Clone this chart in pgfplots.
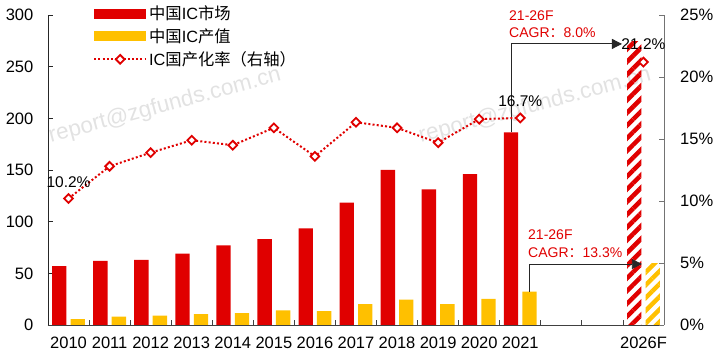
\documentclass[border=0pt]{standalone}
\usepackage{pgfplots}
\pgfplotsset{compat=1.18}
\usepackage{fontspec}
\setmainfont{Liberation Sans}
\newfontfamily\cjk{Noto Sans CJK SC}
\usetikzlibrary{patterns.meta,arrows.meta}
\definecolor{cred}{HTML}{E00000}
\definecolor{cyel}{HTML}{FFC000}
\definecolor{wm}{HTML}{E2E2E2}
\newcommand{\fs}{\fontsize{15.5}{18}\selectfont}
\newcommand{\fst}{\fontsize{16.5}{19}\selectfont}
\newcommand{\fsl}{\fontsize{16.3}{19}\selectfont}
\newcommand{\fsr}{\fontsize{14}{16}\selectfont}

\tikzset{
  rateline/.style={cred, dash pattern=on 2pt off 2.2pt, line width=2pt},
  ratemark/.style={mark=square*, mark size=3.1pt, mark options={solid, rotate=45, fill=white, draw=cred, line width=1.8pt}},
}

\pgfplotsset{
  common/.style={
    scale only axis, width=616pt, height=310pt,
    xmin=-0.5, xmax=14.5,
    tick align=inside,
    major tick length=5pt, minor tick length=5pt,
    /pgf/number format/assume math mode=true,
    tick label style={font=\fst},
    clip=false,
  },
}

\begin{document}
\begin{tikzpicture}
\useasboundingbox (-48pt,-33pt) rectangle (670pt,325pt);

% watermarks
\node[text=wm, rotate=15, font=\fontsize{22.5}{24}\selectfont] at (117pt,219pt) {report@zgfunds.com.cn};
\node[text=wm, rotate=15, font=\fontsize{22.5}{24}\selectfont] at (487pt,219pt) {report@zgfunds.com.cn};

\begin{axis}[
  common,
  ymin=0, ymax=300, ytick={0,50,...,300},
  axis x line*=bottom, axis y line*=left,
  x axis line style={black!75, line width=0.8pt},
  y axis line style={black!85, line width=0.8pt},
  xtick={0,1,2,3,4,5,6,7,8,9,10,11,14},
  xticklabels={2010,2011,2012,2013,2014,2015,2016,2017,2018,2019,2020,2021,2026F},
  major x tick style={draw=none},
  minor xtick={-0.5,0.5,...,14.5},
  minor x tick style={black!75, line width=0.8pt},
  major y tick style={black!85, line width=0.8pt},
  xticklabel style={anchor=north, inner sep=0pt, yshift=-12pt},
  yticklabel style={anchor=east, inner sep=0pt, xshift=-14.5pt},
  legend style={at={(axis description cs:0.073,1.036)}, anchor=north west,
    draw=none, fill=none, inner sep=0pt, font=\fsl, row sep=3.5pt,
    nodes={inner sep=2pt}},
  legend cell align=left,
]
\addplot[ybar, bar width=0.35, bar shift=-0.225, fill=cred, draw=none,
  legend image code/.code={\fill[cred] (0pt,-5pt) rectangle (52pt,5pt);}]
  coordinates {(0,57) (1,62) (2,63) (3,69) (4,77) (5,83) (6,93.5) (7,118.4) (8,150) (9,131.3) (10,146) (11,186.5)};
\addlegendentry{\cjk 中国\rmfamily IC\cjk 市场}
\addplot[ybar, bar width=0.35, bar shift=0.225, fill=cyel, draw=none,
  legend image code/.code={\fill[cyel] (0pt,-5pt) rectangle (52pt,5pt);}]
  coordinates {(0,5.8) (1,8) (2,9) (3,10.6) (4,11.6) (5,14.2) (6,13.5) (7,20.3) (8,24.5) (9,20.3) (10,25.2) (11,32.3)};
\addlegendentry{\cjk 中国\rmfamily IC\cjk 产值}
\addlegendimage{rateline,
  legend image code/.code={\draw[rateline, ratemark, mark repeat=2, mark phase=2] plot coordinates {(0pt,0pt) (26pt,0pt) (52pt,0pt)};}}
\addlegendentry{IC\cjk 国产化率（右轴）}
% 2026F hatched bars
\addplot[ybar, bar width=0.35, bar shift=-0.225, draw=none, forget plot,
  pattern={Lines[angle=45, distance=9pt, line width=4.5pt]}, pattern color=cred]
  coordinates {(14,274)};
\addplot[ybar, bar width=0.35, bar shift=0.225, draw=none, forget plot,
  pattern={Lines[angle=45, distance=9pt, line width=4.5pt]}, pattern color=cyel]
  coordinates {(14,59.6)};
% CAGR arrows
\draw[black!85, line width=0.9pt, -{Triangle[length=10pt, width=10pt]}]
  (axis cs:10.775,186.5) -- (axis cs:10.775,272) -- (axis cs:13.476,272);
\draw[black!85, line width=0.9pt, -{Triangle[length=10pt, width=10pt]}]
  (axis cs:11.225,32.3) -- (axis cs:11.225,59) -- (axis cs:13.96,59);
\node[anchor=west, text=cred, font=\fsr, inner sep=0pt] at (461pt,309pt) {21-26F};
\node[anchor=west, text=cred, font=\fsr, inner sep=0pt] at (461pt,292pt) {CAGR{\cjk ：}8.0\%};
\node[anchor=west, text=cred, font=\fsr, inner sep=0pt] at (480pt,90pt) {21-26F};
\node[anchor=west, text=cred, font=\fsr, inner sep=0pt] at (480pt,72.3pt) {CAGR{\cjk ：}13.3\%};
\end{axis}

\begin{axis}[
  common,
  ymin=0, ymax=25, ytick={0,5,...,25},
  axis x line=none, axis y line*=right,
  y axis line style={black!55, line width=0.8pt},
  major y tick style={black!55, line width=0.8pt},
  yticklabel={\pgfmathprintnumber{\tick}\%},
  yticklabel style={anchor=west, inner sep=0pt, xshift=16pt},
]
\addplot[rateline, ratemark] 
  coordinates {(0,10.2) (1,12.8) (2,13.9) (3,14.9) (4,14.5) (5,15.9) (6,13.6) (7,16.35) (8,15.9) (9,14.7) (10,16.6) (11,16.7)};
\addplot[cred, only marks, ratemark]
  coordinates {(14,21.2)};
\node[anchor=south, font=\fs, inner sep=0pt, yshift=11pt] at (axis cs:0,10.2) {10.2\%};
\node[anchor=south, font=\fs, inner sep=0pt, yshift=11pt] at (axis cs:11,16.7) {16.7\%};
\node[anchor=south, font=\fs, inner sep=0pt, yshift=12pt] at (axis cs:14,21.2) {21.2\%};
\end{axis}
\end{tikzpicture}
\end{document}
